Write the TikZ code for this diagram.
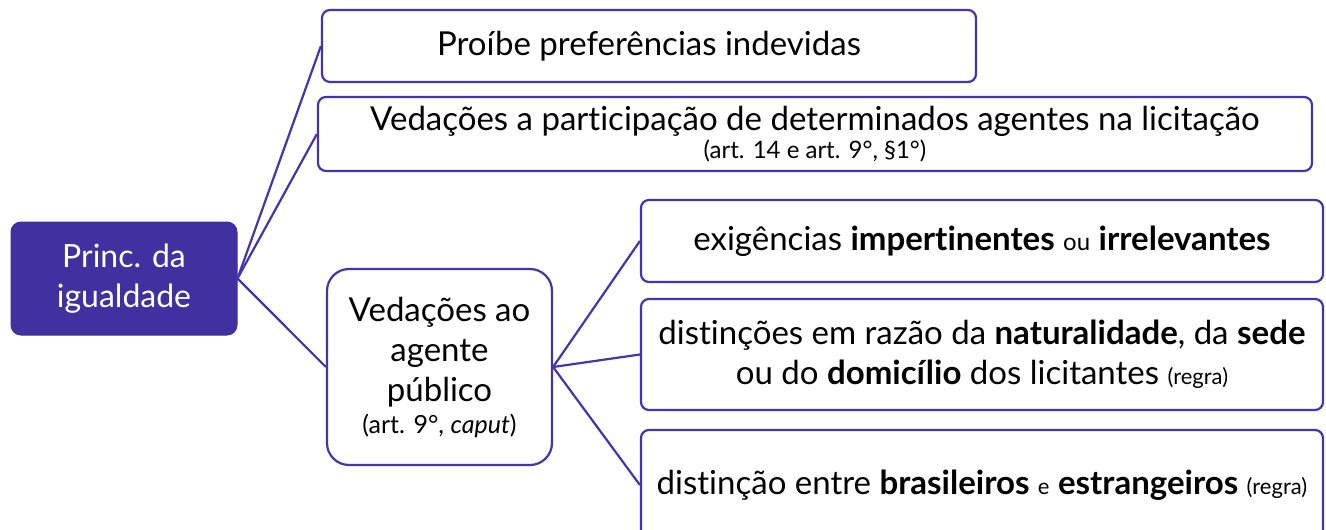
\documentclass[tikz,border=0pt]{standalone}
\usepackage{fontspec}
\setmainfont{Lato}[Ligatures=NoCommon]
\definecolor{rootfill}{RGB}{64,48,160}
\definecolor{edge}{RGB}{70,52,170}
\tikzset{
  box/.style={draw=edge, line width=2.2pt, rounded corners=8pt, fill=white, inner sep=0pt, align=center, text=black},
  rootbox/.style={fill=rootfill, draw=rootfill, line width=1pt, rounded corners=10pt, inner sep=0pt, align=center, text=white},
  link/.style={draw=edge, line width=2.2pt},
  big/.style={font=\fontsize{33}{40}\selectfont},
}
\newcommand{\sm}[2]{{\fontsize{#1}{#1}\selectfont #2}}
\begin{document}
\begin{tikzpicture}[x=1pt,y=-1pt]
\clip (0,0) rectangle (1326,530);
\fill[white] (0,0) rectangle (1326,530);
% nodes
\node[rootbox, font=\fontsize{32}{40}\selectfont, minimum width=226pt, minimum height=113pt] (root) at (124,278.5) {Princ. da\\igualdade};
\node[box, big, minimum width=654pt, minimum height=72pt] (b1) at (649,46) {Proíbe preferências indevidas};
\node[box, minimum width=994pt, minimum height=74pt] (b2) at (815,134) {{\fontsize{33}{33}\selectfont Vedações a participação de determinados agentes na licitação}\\[2pt]\sm{24}{(art. 14 e art. 9°, §1°)}};
\node[box, big, rounded corners=22pt, minimum width=225pt, minimum height=196pt] (b3) at (439.5,367) {Vedações ao\\agente\\público\\[-8pt]\sm{25}{(art. 9°, \textit{caput})}};
\node[box, big, minimum width=682pt, minimum height=82pt] (b4) at (982,241) {exigências \textbf{impertinentes} \sm{24}{ou} \textbf{irrelevantes}};
\node[box, big, minimum width=682pt, minimum height=111pt] (b5) at (982,354.5) {distinções em razão da \textbf{naturalidade}, da \textbf{sede}\\ou do \textbf{domicílio} dos licitantes \sm{22}{(regra)}};
\node[box, big, minimum width=682pt, minimum height=110pt] (b6) at (982,485) {distinção entre \textbf{brasileiros} \sm{22}{e} \textbf{estrangeiros} \sm{22}{(regra)}};
% connectors
\draw[link] (root.east) -- (b1.west);
\draw[link] (root.east) -- (b2.west);
\draw[link] (root.east) -- (b3.west);
\draw[link] (b3.east) -- (b4.west);
\draw[link] (b3.east) -- (b5.west);
\draw[link] (b3.east) -- (b6.west);
\end{tikzpicture}
\end{document}
